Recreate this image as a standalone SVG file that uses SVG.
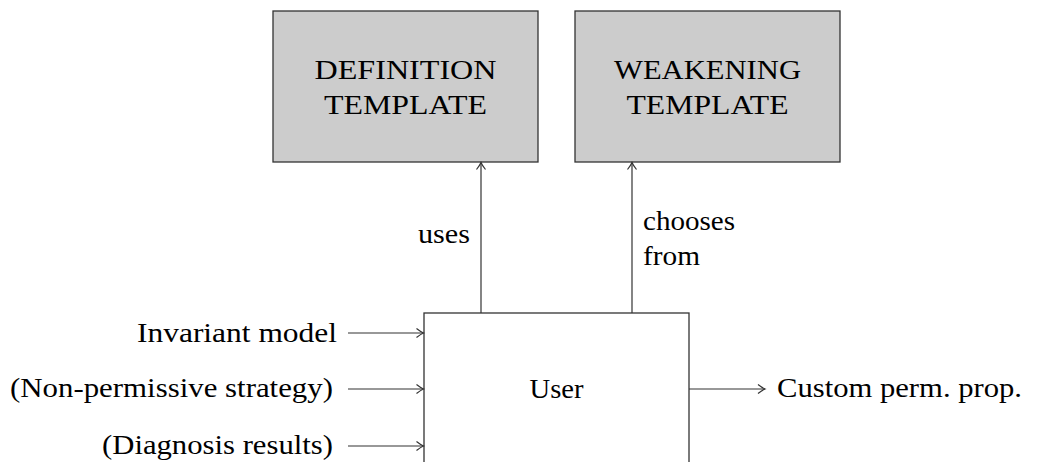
<svg xmlns="http://www.w3.org/2000/svg" width="1037" height="462" viewBox="0 0 1037 462">
<style>
.t{font-family:"Liberation Serif","Times New Roman",serif;font-size:28px;fill:#000}
.box{stroke:#333;stroke-width:1.3}
.tpl{fill:#cccccc}
.usr{fill:#ffffff}
.c{stroke:#333;stroke-width:1.2;fill:none}
</style>
<defs>
<marker id="arr" markerUnits="userSpaceOnUse" markerWidth="14" markerHeight="14" viewBox="-10 -7 14 14" refX="0" refY="0" orient="auto">
<path d="M -7 -4.5 Q -2.5 -1 0 0 Q -2.5 1 -7 4.5" fill="none" stroke="#333" stroke-width="1.2"/>
</marker>
</defs>
<rect width="1037" height="462" fill="#fff"/>
<g id="definition">
<rect class="box tpl" x="273" y="11" width="265" height="151"/>
<text class="t" x="405.5" y="79" text-anchor="middle" textLength="182" lengthAdjust="spacingAndGlyphs">DEFINITION</text>
<text class="t" x="405.5" y="114" text-anchor="middle" textLength="163" lengthAdjust="spacingAndGlyphs">TEMPLATE</text>
</g>
<g id="weakening">
<rect class="box tpl" x="575" y="11" width="265" height="151"/>
<text class="t" x="707.5" y="79" text-anchor="middle" textLength="187" lengthAdjust="spacingAndGlyphs">WEAKENING</text>
<text class="t" x="707.5" y="114" text-anchor="middle" textLength="162" lengthAdjust="spacingAndGlyphs">TEMPLATE</text>
</g>
<g id="user">
<rect class="box usr" x="424" y="313" width="265" height="200"/>
<text class="t" x="556.5" y="398" text-anchor="middle" textLength="54" lengthAdjust="spacingAndGlyphs">User</text>
</g>
<g id="inputs">
<text class="t" x="337" y="342" text-anchor="end" textLength="200" lengthAdjust="spacingAndGlyphs">Invariant model</text>
<text class="t" x="333" y="397" text-anchor="end" textLength="323" lengthAdjust="spacingAndGlyphs">(Non-permissive strategy)</text>
<text class="t" x="333" y="454" text-anchor="end" textLength="231" lengthAdjust="spacingAndGlyphs">(Diagnosis results)</text>
</g>
<g id="output">
<text class="t" x="777" y="397" textLength="245" lengthAdjust="spacingAndGlyphs">Custom perm. prop.</text>
</g>
<g id="connectors">
<line class="c" x1="481" y1="313" x2="481" y2="162.5" marker-end="url(#arr)"/>
<line class="c" x1="632" y1="313" x2="632" y2="162.5" marker-end="url(#arr)"/>
<line class="c" x1="348" y1="333" x2="423.5" y2="333" marker-end="url(#arr)"/>
<line class="c" x1="348" y1="389" x2="423.5" y2="389" marker-end="url(#arr)"/>
<line class="c" x1="348" y1="446" x2="423.5" y2="446" marker-end="url(#arr)"/>
<line class="c" x1="689" y1="389" x2="765" y2="389" marker-end="url(#arr)"/>
<text class="t" x="470" y="243" text-anchor="end" textLength="52" lengthAdjust="spacingAndGlyphs">uses</text>
<text class="t" x="643" y="230" textLength="92" lengthAdjust="spacingAndGlyphs">chooses</text>
<text class="t" x="643" y="265" textLength="57" lengthAdjust="spacingAndGlyphs">from</text>
</g>
</svg>
